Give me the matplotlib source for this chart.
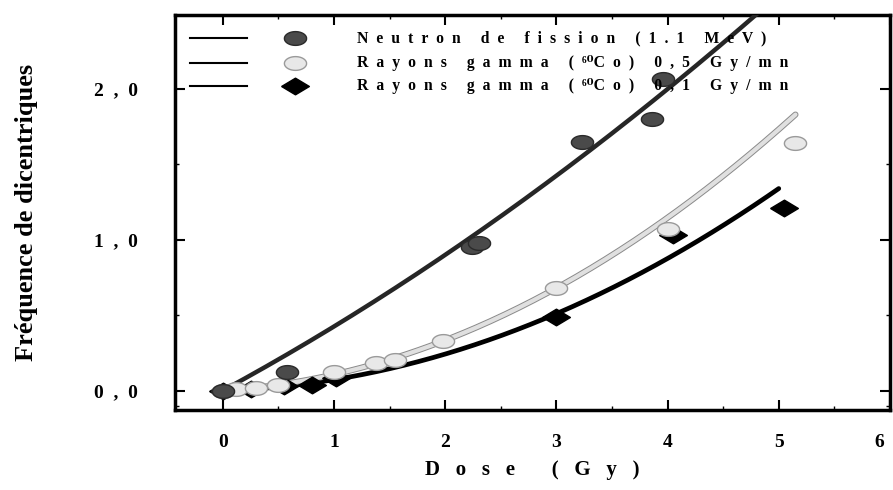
import numpy as np
import matplotlib
matplotlib.use("Agg")
import matplotlib.pyplot as plt
import matplotlib.patheffects as pe
import matplotlib.transforms as mtransforms

plt.rcParams['font.family'] = ['Liberation Serif', 'DejaVu Serif']
plt.rcParams['font.weight'] = 'bold'

# Data
neutron_x = [0.0, 0.58, 2.24, 2.30, 3.23, 3.86, 3.96]
neutron_y = [0.0, 0.12, 0.95, 0.98, 1.65, 1.80, 2.07]
gamma05_x = [0.0, 0.12, 0.3, 0.5, 1.0, 1.38, 1.55, 1.98, 3.0, 4.0, 5.15]
gamma05_y = [0.0, 0.01, 0.02, 0.04, 0.12, 0.18, 0.20, 0.33, 0.68, 1.07, 1.64]
gamma01_x = [0.0, 0.25, 0.55, 0.8, 1.02, 3.0, 4.05, 5.05]
gamma01_y = [0.0, 0.01, 0.03, 0.04, 0.08, 0.49, 1.03, 1.21]

# Linear-quadratic fit coefficients (alpha, beta) and fit upper dose
neutron_fit = (0.40, 0.025, 4.82)
gamma05_fit = (0.047, 0.0599, 5.15)
gamma01_fit = (0.023, 0.049, 5.0)

xticks = [0, 1, 2, 3, 4, 5, 6]
yticks = [0.0, 1.0, 2.0]
ytick_labels = ["0,0", "1,0", "2,0"]
legend_labels = ["Neutron de fission (1.1 MeV)",
                 "Rayons gamma (\u2076\u2070Co) 0,5 Gy/mn",
                 "Rayons gamma (\u2076\u2070Co) 0,1 Gy/mn"]
xlabel = "Dose (Gy)"
ylabel = "Fréquence de dicentriques"

SUPERS = "\u2070\u00b9\u00b2\u00b3\u2074\u2075\u2076\u2077\u2078\u2079"


def spaced(s, n):
    out = ""
    for i, ch in enumerate(s):
        out += ch
        if i < len(s) - 1 and ch not in SUPERS:
            out += " " * n
    return out


fig = plt.figure(figsize=(8.93, 4.9), dpi=100)
ax = fig.add_axes([0.196, 0.163, 0.8006, 0.806])
ax.set_xlim(-0.43, 5.96)
ax.set_ylim(-0.13, 2.49)

diamond = [(-1, 0), (0, 0.6), (1, 0), (0, -0.6), (-1, 0)]
t = np.linspace(0, 2 * np.pi, 40)
ellipse = list(zip(np.cos(t), 0.62 * np.sin(t)))


def curve(fit):
    a, b, xmax = fit
    x = np.linspace(0, xmax, 200)
    return x, a * x + b * x ** 2


# fit lines
x, y = curve(gamma01_fit)
ax.plot(x, y, color='black', lw=3.4, solid_capstyle='round', zorder=3)
x, y = curve(gamma05_fit)
ax.plot(x, y, color='#e0e0e0', lw=3.0, solid_capstyle='round', zorder=3,
        path_effects=[pe.Stroke(linewidth=4.4, foreground='#8a8a8a'), pe.Normal()])
x, y = curve(neutron_fit)
ax.plot(x, y, color='#262626', lw=3.2, solid_capstyle='round', zorder=3)

# data points
ax.plot(gamma01_x, gamma01_y, linestyle='none', marker=diamond, markersize=20,
        color='black', zorder=4)
ax.plot(gamma05_x, gamma05_y, linestyle='none', marker=ellipse, markersize=16,
        markerfacecolor='#e8e8e8', markeredgecolor='#9a9a9a', markeredgewidth=1.0, zorder=4)
ax.plot(neutron_x, neutron_y, linestyle='none', marker=ellipse, markersize=16,
        markerfacecolor='#4a4a4a', markeredgecolor='#2a2a2a', markeredgewidth=1.0, zorder=5)

# legend drawn in axes coordinates
rows = [0.942, 0.878, 0.820]
styles = [dict(marker=ellipse, markersize=16, markerfacecolor='#4a4a4a', markeredgecolor='#2a2a2a'),
          dict(marker=ellipse, markersize=16, markerfacecolor='#e8e8e8', markeredgecolor='#9a9a9a'),
          dict(marker=diamond, markersize=20, color='black')]
for yy, lab, st in zip(rows, legend_labels, styles):
    ax.plot([0.021, 0.101], [yy, yy], color='black', lw=1.5, transform=ax.transAxes, zorder=6)
    ax.plot([0.168], [yy], linestyle='none', transform=ax.transAxes, zorder=6, **st)
    ax.text(0.255, yy, spaced(lab, 2), transform=ax.transAxes, fontsize=11.3, fontweight='bold',
            va='center', ha='left', zorder=6)

for s in ax.spines.values():
    s.set_linewidth(2.5)

ax.set_xticks(xticks)
ax.set_xticklabels([str(v) if v != xticks[-1] else "" for v in xticks],
                   fontsize=14, fontweight='bold')
# last x tick label sits slightly inside the figure edge, as in the reference
trans = mtransforms.blended_transform_factory(ax.transData, ax.transAxes)
ax.annotate(str(xticks[-1]), xy=(xticks[-1], 0), xycoords=trans,
            xytext=(-8, -17), textcoords='offset points',
            ha='center', va='top', fontsize=14, fontweight='bold', annotation_clip=False)

ax.set_yticks(yticks)
ax.set_yticklabels([spaced(v, 2) for v in ytick_labels], fontsize=14, fontweight='bold')
ax.tick_params(axis='both', direction='in', length=7, width=1.5, top=True, right=True)
ax.tick_params(axis='x', pad=17)
ax.tick_params(axis='y', pad=27)
ax.set_xticks([0.5, 1.5, 2.5, 3.5, 4.5, 5.5], minor=True)
ax.set_yticks([-0.1, 0.5, 1.5], minor=True)
ax.tick_params(which='minor', direction='in', length=3, width=1, top=True, right=True)

ax.set_xlabel(spaced(xlabel, 3), fontsize=15, fontweight='bold', labelpad=7)
ax.set_ylabel(ylabel, fontsize=19, fontweight='bold', labelpad=40)

fig.savefig("out.png", dpi=100)
